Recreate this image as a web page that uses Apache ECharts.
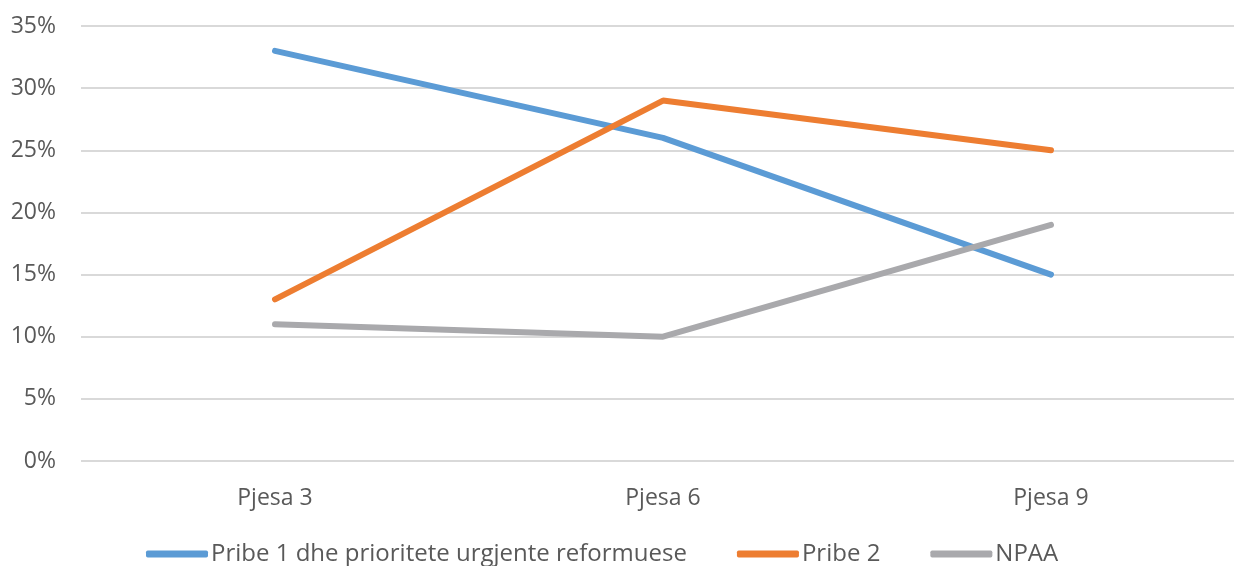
<!DOCTYPE html>
<html><head><meta charset="utf-8">
<script src="https://cdn.jsdelivr.net/npm/echarts@6/dist/echarts.min.js"></script>
<style>html,body{margin:0;padding:0;background:#fff;overflow:hidden}#c{width:1250px;height:566px}</style>
</head><body><div id="c"></div>
<script>
const categories = ['Pjesa 3', 'Pjesa 6', 'Pjesa 9'];
const seriesNames = ['Pribe 1 dhe prioritete urgjente reformuese', 'Pribe 2', 'NPAA'];
const pribe1 = [33, 26, 15];
const pribe2 = [13, 29, 25];
const npaa = [11, 10, 19];
const colors = ['#5B9BD5', '#ED7D31', '#A9A9AC'];
const font = '"Open Sans", sans-serif';
const chart = echarts.init(document.getElementById('c'), null, {renderer: 'canvas'});
const mk = (name, data, color) => ({
  name, type: 'line', data, symbol: 'none', lineStyle: {width: 6, color, cap: 'round'}, itemStyle: {color}
});
chart.setOption({
  animation: false,
  grid: {left: 81, top: 26, width: 1164, height: 435},
  xAxis: {
    type: 'category', data: categories, boundaryGap: true,
    axisLine: {show: false}, axisTick: {show: false},
    axisLabel: {color: '#595959', fontSize: 23, fontFamily: font, margin: 26}
  },
  yAxis: {
    type: 'value', min: 0, max: 35, interval: 5,
    axisLabel: {formatter: '{value}%', color: '#595959', fontSize: 23, fontFamily: font, margin: 25},
    splitLine: {lineStyle: {color: '#D9D9D9', width: 2}},
    axisLine: {show: false}, axisTick: {show: false}
  },
  legend: {
    left: 141, top: 537, itemWidth: 62, itemHeight: 7, itemGap: 50,
    icon: 'roundRect',
    textStyle: {color: '#595959', fontSize: 24, fontFamily: font, padding: [0,0,0,-2]},
    data: seriesNames
  },
  series: [mk(seriesNames[0], pribe1, colors[0]), mk(seriesNames[1], pribe2, colors[1]), mk(seriesNames[2], npaa, colors[2])]
});
</script></body></html>
